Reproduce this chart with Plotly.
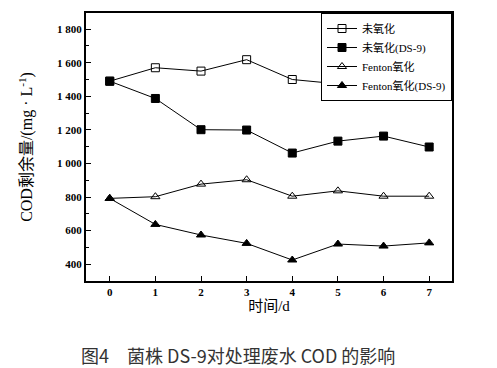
import plotly.graph_objects as go

days = [0, 1, 2, 3, 4, 5, 6, 7]
names = ["未氧化", "未氧化(DS-9)", "Fenton氧化", "Fenton氧化(DS-9)"]
s_unox = [1490, 1570, 1550, 1618, 1500, 1474, 1497, 1474]
s_unox_ds9 = [1490, 1387, 1201, 1199, 1062, 1133, 1163, 1098]
s_fenton = [792, 802, 877, 903, 805, 837, 805, 805]
s_fenton_ds9 = [792, 637, 574, 524, 425, 520, 508, 527]
y_ticks = [400, 600, 800, 1000, 1200, 1400, 1600, 1800]
y_ticklabels = ["400", "600", "800", "1 000", "1 200", "1 400", "1 600", "1 800"]

series = [s_unox, s_unox_ds9, s_fenton, s_fenton_ds9]
symbols = ["square-open", "square", "triangle-up-open", "triangle-up"]

serif = "Liberation Serif, Times New Roman, Noto Sans CJK SC, serif"

fig = go.Figure()
for name, ys, sym in zip(names, series, symbols):
    fig.add_trace(go.Scatter(
        x=days, y=ys, name=name, mode="lines+markers",
        line=dict(color="black", width=1),
        marker=dict(symbol=sym, size=8, color="black", line=dict(color="black", width=1)),
    ))

fig.update_layout(
    width=489, height=360,
    margin=dict(l=78, r=45, t=5, b=87, autoexpand=False),
    paper_bgcolor="white", plot_bgcolor="white",
    showlegend=True,
    legend=dict(x=1, y=1, xanchor="right", yanchor="top",
                bordercolor="black", borderwidth=1, bgcolor="white",
                font=dict(family=serif, size=11, color="black"),
                tracegroupgap=0),
    font=dict(family=serif, color="black"),
)
fig.update_xaxes(
    range=[-0.52, 7.5], tickvals=days, ticktext=[str(d) for d in days],
    ticks="inside", ticklen=5, tickwidth=1, tickcolor="black",
    showline=True, linecolor="black", linewidth=2, mirror=True,
    showgrid=False, zeroline=False, automargin=False,
    tickfont=dict(family=serif, size=11, weight="bold", color="black"),
    title=dict(text="时间/d", font=dict(family=serif, size=15, color="black"), standoff=2),
)
fig.update_yaxes(
    range=[300, 1896], tickvals=y_ticks, ticktext=y_ticklabels,
    ticks="inside", ticklen=5, tickwidth=1, tickcolor="black",
    minor=dict(dtick=100, ticks="inside", ticklen=3, tickcolor="black", tick0=300),
    showline=True, linecolor="black", linewidth=2, mirror=True,
    showgrid=False, zeroline=False, automargin=False,
    tickfont=dict(family=serif, size=11, weight="bold", color="black"),
    title=dict(text="COD剩余量/(mg · L<sup>-1</sup>)", font=dict(family=serif, size=16, color="black"), standoff=20),
)
fig.add_annotation(
    text="图4　菌株 DS-9对处理废水 COD 的影响", xref="paper", yref="paper",
    x=0.415, y=-0.276, xanchor="center", yanchor="middle", showarrow=False,
    font=dict(family="Noto Sans CJK SC, sans-serif", size=18, color="#333333"),
)
fig.write_html("out.html")
